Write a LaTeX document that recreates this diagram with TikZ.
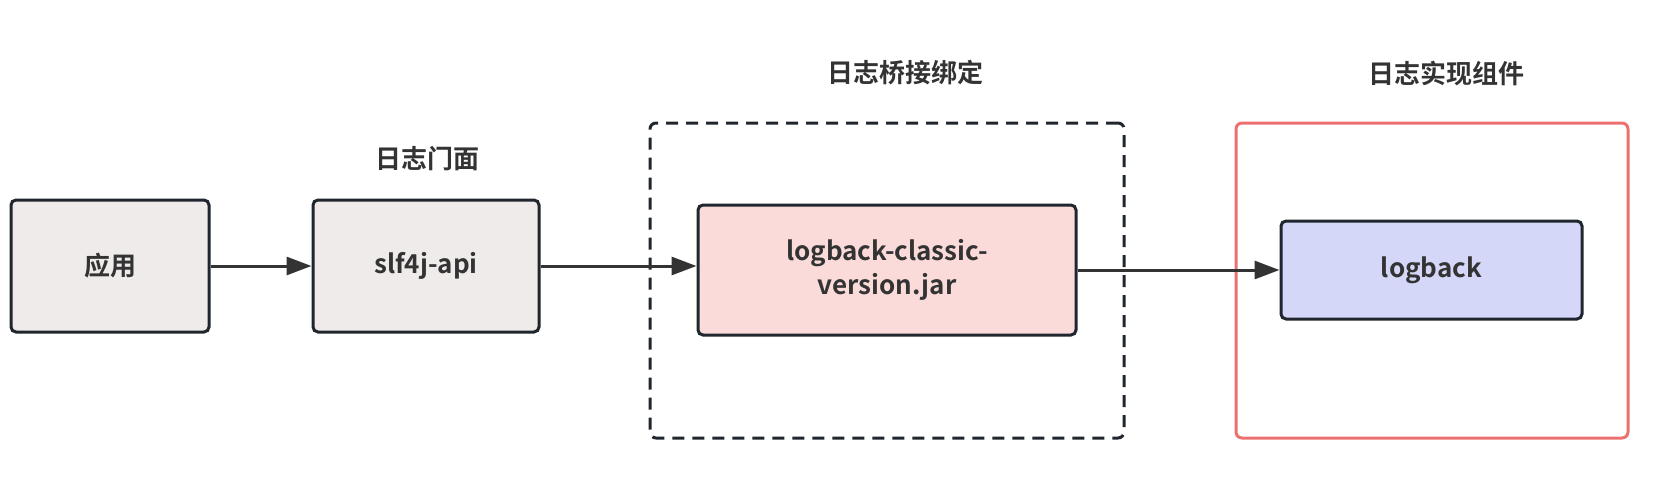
\documentclass[tikz,border=0pt]{standalone}
\usepackage{fontspec}
\setmainfont{Noto Sans CJK SC}[BoldFont={Noto Sans CJK SC Bold}]
\usetikzlibrary{arrows.meta}
\definecolor{ink}{RGB}{51,51,51}
\definecolor{edge}{RGB}{32,38,46}
\definecolor{greyfill}{RGB}{239,235,234}
\definecolor{pinkfill}{RGB}{250,219,218}
\definecolor{bluefill}{RGB}{212,215,247}
\definecolor{redline}{RGB}{236,112,112}
\tikzset{
  box/.style={draw=edge,line width=1.5pt,rounded corners=2.5pt,text=ink,font=\bfseries\fontsize{13}{17}\selectfont,align=center,inner sep=0pt},
  group/.style={line width=1.5pt,rounded corners=3pt,inner sep=0pt},
  title/.style={text=ink,font=\bfseries\fontsize{13}{17}\selectfont},
  link/.style={draw=ink,line width=1.5pt,-{Triangle[length=12.5pt,width=9pt]}}
}
\begin{document}
\begin{tikzpicture}[x=0.5pt,y=-0.5pt]
\useasboundingbox (0,0) rectangle (1671,482);
\node[group,draw=edge,dash pattern=on 6pt off 4pt,minimum width=237pt,minimum height=157.5pt] (bridge) at (887,280.5) {};
\node[group,draw=redline,minimum width=196pt,minimum height=157.5pt] (impl) at (1432,280.5) {};
\node[box,fill=greyfill,minimum width=99pt,minimum height=66pt] (app) at (110,266) {应用};
\node[box,fill=greyfill,minimum width=113pt,minimum height=66pt] (api) at (426,266) {slf4j-api};
\node[box,fill=pinkfill,minimum width=189pt,minimum height=65pt] (classic) at (887,270) {logback-classic-\\version.jar};
\node[box,fill=bluefill,minimum width=150.5pt,minimum height=49pt] (logback) at (1431.5,270) {logback};
\node[title] (facade) at (427,159) {日志门面};
\node[title] (binding) at (905,73) {日志桥接绑定};
\node[title] (implement) at (1446,73) {日志实现组件};
\draw[link] (app.east) -- (api.west);
\draw[link] (api.east) -- (api.east -| classic.west);
\draw[link] (classic.east) -- (logback.west);
\end{tikzpicture}
\end{document}
